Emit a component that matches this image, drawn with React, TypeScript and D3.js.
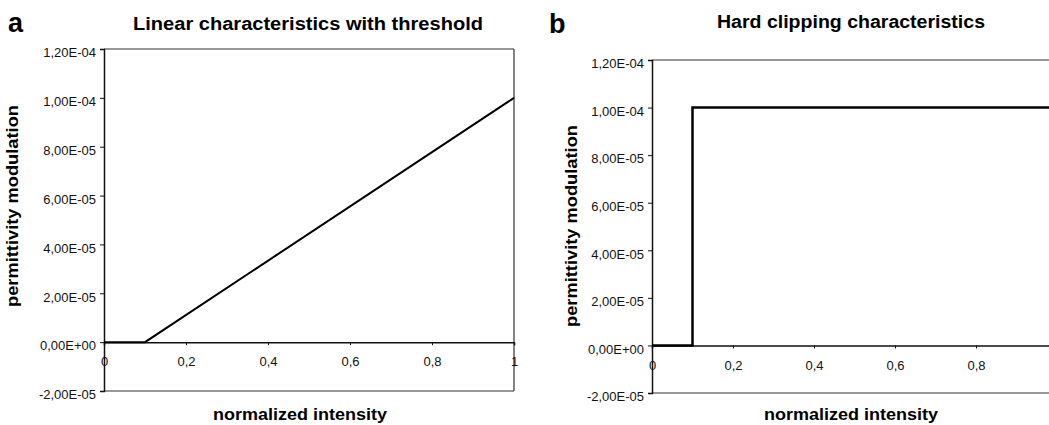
import { useRef, useEffect } from 'react'
import * as d3 from 'd3'

// x = normalized intensity, y = permittivity modulation
const linearX = [0, 0.1, 1]
const linearY = [0, 0, 1e-4]
const clipX = [0, 0.1, 0.1, 1]
const clipY = [0, 0, 1e-4, 1e-4]

const xTicks = [0, 0.2, 0.4, 0.6, 0.8, 1]
const yTicks = [-2e-5, 0, 2e-5, 4e-5, 6e-5, 8e-5, 1e-4, 1.2e-4]
const yDomain: [number, number] = [-2e-5, 1.2e-4]
const xDomain: [number, number] = [0, 1]

const titles = ['Linear characteristics with threshold', 'Hard clipping characteristics']
const letters = ['a', 'b']
const xTitle = 'normalized intensity'
const yTitle = 'permittivity modulation'

const W = 1049
const H = 425
const FONT = '"Liberation Sans", Arial, sans-serif'

const fmtY = (v: number) => {
  if (v === 0) return '0,00E+00'
  const s = v.toExponential(2).replace('.', ',')
  const [m, e] = s.split('e')
  const n = parseInt(e, 10)
  const sign = n < 0 ? '-' : '+'
  return `${m}E${sign}${String(Math.abs(n)).padStart(2, '0')}`
}
const fmtX = (v: number) => (v === 0 || v === 1 ? String(v) : String(v).replace('.', ','))

interface Panel {
  xs: number[]
  ys: number[]
  left: number
  right: number
  top: number
  bottom: number
  rightBorder: boolean
  titleX: number
  titleY: number
  titleLen: number
  letterX: number
  letterY: number
  yLabelX: number
  yLabelY: number
  xLabelX: number
  xLabelY: number
  lineWidth: number
}

const panels: Panel[] = [
  {
    xs: linearX, ys: linearY,
    left: 104, right: 514, top: 49, bottom: 391, rightBorder: true,
    titleX: 308, titleY: 30, titleLen: 350, letterX: 8, letterY: 32,
    yLabelX: 18, yLabelY: 206, xLabelX: 300, xLabelY: 420, lineWidth: 2,
  },
  {
    xs: clipX, ys: clipY,
    left: 652, right: 1057, top: 60, bottom: 393, rightBorder: false,
    titleX: 851, titleY: 28, titleLen: 268, letterX: 549, letterY: 33,
    yLabelX: 577, yLabelY: 226, xLabelX: 851, xLabelY: 420, lineWidth: 2.5,
  },
]

const App = () => {
  const svgRef = useRef<SVGSVGElement>(null)

  useEffect(() => {
    if (!svgRef.current) return
    const svg = d3.select(svgRef.current)
    svg.selectAll('*').remove()

    panels.forEach((p, i) => {
      const x = d3.scaleLinear().domain(xDomain).range([p.left, p.right])
      const y = d3.scaleLinear().domain(yDomain).range([p.bottom, p.top])
      const g = svg.append('g')

      // frame
      g.append('line').attr('x1', p.left).attr('x2', p.right).attr('y1', p.top).attr('y2', p.top)
        .attr('stroke', '#333').attr('stroke-width', 1.2)
      g.append('line').attr('x1', p.left).attr('x2', p.right).attr('y1', p.bottom).attr('y2', p.bottom)
        .attr('stroke', '#333').attr('stroke-width', 1.2)
      if (p.rightBorder) {
        g.append('line').attr('x1', p.right).attr('x2', p.right).attr('y1', p.top).attr('y2', p.bottom)
          .attr('stroke', '#333').attr('stroke-width', 1.2)
      }

      // y axis
      const yAxis = g.append('g')
        .attr('transform', `translate(${p.left},0)`)
        .call(d3.axisLeft(y).tickValues(yTicks).tickFormat((d) => fmtY(+d)).tickSize(4).tickPadding(4))
      yAxis.select('.domain').attr('stroke', '#111').attr('stroke-width', 1.5)
      yAxis.selectAll('.tick line').attr('stroke', '#111')
      yAxis.selectAll('.tick text')
        .attr('font-family', FONT).attr('font-size', 13).attr('fill', '#111').attr('dy', '0.6em')

      // x axis at y = 0
      const xAxis = g.append('g')
        .attr('transform', `translate(0,${y(0)})`)
        .call(d3.axisBottom(x).tickValues(xTicks).tickFormat((d) => fmtX(+d)).tickSize(3).tickPadding(12))
      xAxis.select('.domain').attr('stroke', '#111').attr('stroke-width', 1.5)
      xAxis.selectAll('.tick line').attr('stroke', '#111')
      xAxis.selectAll('.tick text')
        .attr('font-family', FONT).attr('font-size', 13).attr('fill', '#111')
      xAxis.selectAll('.tick').filter((d) => x(+d) > W).remove()

      // data line
      const pts = p.xs.map((v, k) => [v, p.ys[k]] as [number, number])
      const line = d3.line<[number, number]>().x((d) => x(d[0])).y((d) => y(d[1]))
      g.append('path').datum(pts)
        .attr('fill', 'none').attr('stroke', '#000').attr('stroke-width', p.lineWidth)
        .attr('stroke-linejoin', 'miter').attr('d', line)

      // labels
      g.append('text').attr('x', p.titleX).attr('y', p.titleY).attr('text-anchor', 'middle')
        .attr('font-family', FONT).attr('font-weight', 'bold').attr('font-size', 18)
        .attr('textLength', p.titleLen).attr('lengthAdjust', 'spacingAndGlyphs').text(titles[i])
      g.append('text').attr('x', p.letterX).attr('y', p.letterY)
        .attr('font-family', FONT).attr('font-weight', 'bold').attr('font-size', 27).text(letters[i])
      g.append('text').attr('x', p.xLabelX).attr('y', p.xLabelY).attr('text-anchor', 'middle')
        .attr('font-family', FONT).attr('font-weight', 'bold').attr('font-size', 17)
        .attr('textLength', 174).attr('lengthAdjust', 'spacingAndGlyphs').text(xTitle)
      g.append('text')
        .attr('transform', `translate(${p.yLabelX},${p.yLabelY}) rotate(-90)`)
        .attr('text-anchor', 'middle')
        .attr('font-family', FONT).attr('font-weight', 'bold').attr('font-size', 17)
        .attr('textLength', 202).attr('lengthAdjust', 'spacingAndGlyphs').text(yTitle)
    })
  }, [])

  return (
    <svg
      ref={svgRef}
      width={W}
      height={H}
      style={{ position: 'absolute', left: 0, top: 0, background: '#fff' }}
    />
  )
}

export default App
